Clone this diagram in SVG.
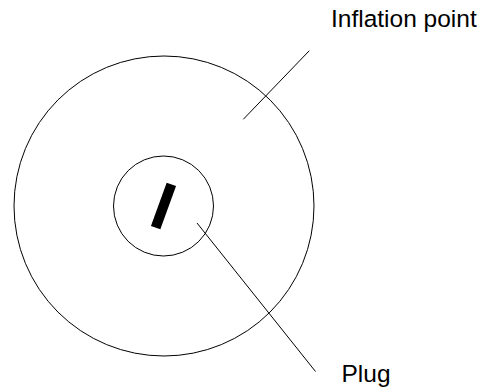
<svg xmlns="http://www.w3.org/2000/svg" width="484" height="388" viewBox="0 0 484 388">
<style>
.ln{fill:none;stroke:#000;stroke-width:1}
.lbl{font-family:"Liberation Sans",Arial,sans-serif;font-size:24.5px;fill:#000}
</style>
<rect width="484" height="388" fill="#fff"/>
<g id="outer"><circle class="ln" cx="164" cy="206" r="150"/></g>
<g id="inner"><circle class="ln" cx="163.5" cy="206" r="50"/>
<rect x="158.5" y="183" width="10" height="46" fill="#000" transform="rotate(20 163.5 206)"/></g>
<g id="connectors">
<line class="ln" x1="243.3" y1="119.3" x2="309.3" y2="50.7"/>
<line class="ln" x1="197" y1="223" x2="315.5" y2="371.5"/>
</g>
<g id="label-inflation"><text class="lbl" x="331" y="27">Inflation point</text></g>
<g id="label-plug"><text class="lbl" x="341.5" y="382">Plug</text></g>
</svg>
